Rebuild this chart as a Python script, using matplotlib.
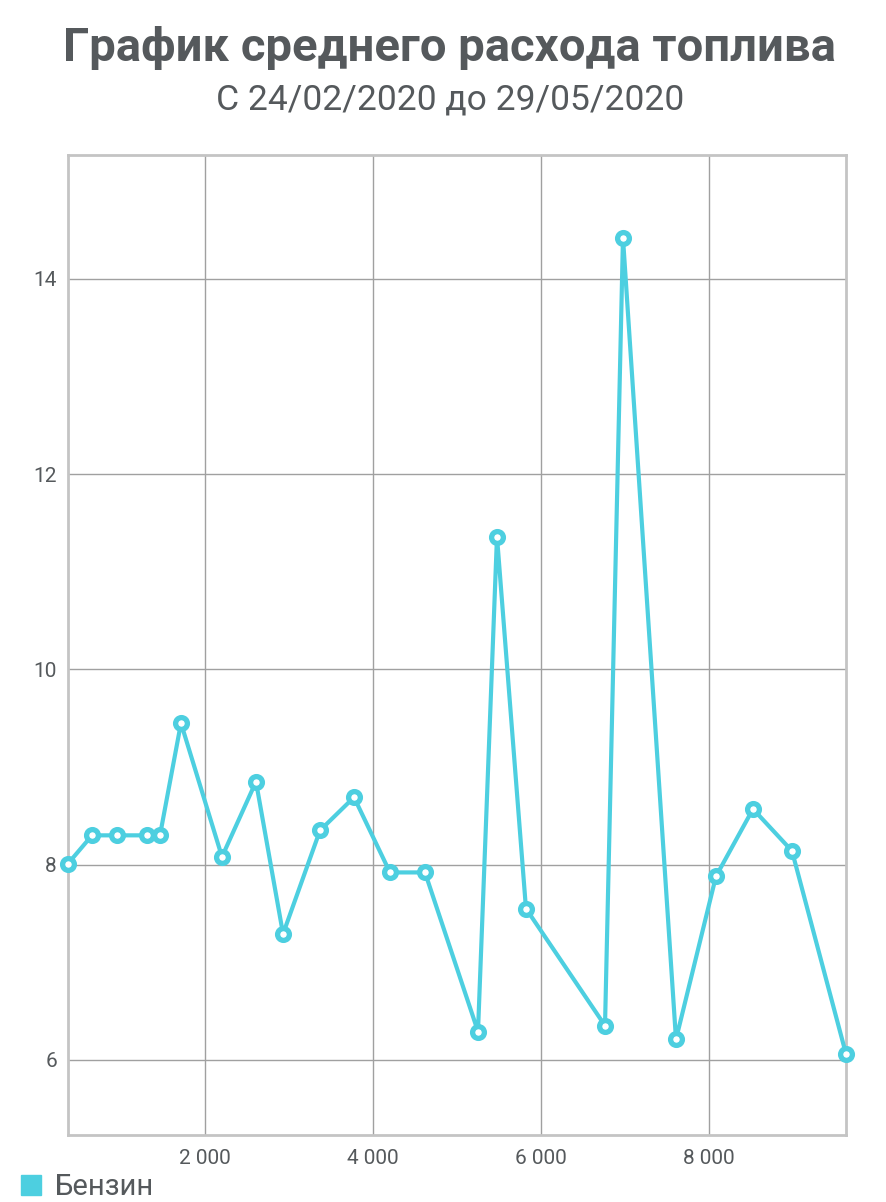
import matplotlib.pyplot as plt
from matplotlib.ticker import FuncFormatter, MultipleLocator
from matplotlib.lines import Line2D

plt.rcParams["font.family"] = ["Roboto", "DejaVu Sans"]

# mileage (km) and average consumption (l/100 km)
mileage = [369, 655, 952, 1310, 1464, 1714, 2202, 2607, 2929, 3369, 3774,
           4202, 4619, 5250, 5476, 5821, 6762, 6976, 7607, 8083, 8524, 8988, 9631]
consumption = [8.01, 8.30, 8.30, 8.30, 8.30, 9.45, 8.08, 8.85, 7.29, 8.35, 8.69,
               7.92, 7.92, 6.29, 11.36, 7.55, 6.35, 14.42, 6.21, 7.88, 8.57, 8.14, 6.06]
series_name = "Бензин"
title = "График среднего расхода топлива"
subtitle = "С 24/02/2020 до 29/05/2020"

line_color = "#4dcfe0"
text_color = "#55595c"

fig = plt.figure(figsize=(8.86, 12.02), dpi=100)
ax = fig.add_axes([68 / 886, 1 - 1135 / 1202, (846 - 68) / 886, (1135 - 155) / 1202])

ax.plot(mileage, consumption, color=line_color, lw=3, marker="o",
        markersize=8.5, markerfacecolor="white", markeredgecolor=line_color,
        markeredgewidth=3.8, zorder=3, clip_on=False)

ax.set_xlim(369, 9631)
ax.set_ylim(5.23, 15.27)
ax.xaxis.set_major_locator(MultipleLocator(2000))
ax.yaxis.set_major_locator(MultipleLocator(2))
ax.xaxis.set_major_formatter(FuncFormatter(lambda v, p: f"{int(v):,}".replace(",", " ")))
ax.yaxis.set_major_formatter(FuncFormatter(lambda v, p: f"{int(v)}"))

ax.grid(True, color="#a0a0a0", lw=1)
ax.set_axisbelow(True)
for s in ax.spines.values():
    s.set_color("#c4c4c4")
    s.set_linewidth(2)
ax.tick_params(length=0, labelsize=15, colors=text_color, pad=8)
ax.tick_params(axis="x", pad=10)

fig.text(449 / 886, 1 - 48 / 1202, title, ha="center", va="center",
         fontsize=34, fontweight="bold", color=text_color)
fig.text(450 / 886, 1 - 100 / 1202, subtitle, ha="center", va="center",
         fontsize=25.5, color=text_color)

handle = Line2D([], [], marker="s", ls="", markersize=15,
                markerfacecolor=line_color, markeredgecolor=line_color)
fig.legend([handle], [series_name], loc="center left",
           bbox_to_anchor=(8 / 886, 1 - 1187 / 1202), frameon=False,
           fontsize=21, handlelength=1.0, handletextpad=0.3,
           borderaxespad=0, borderpad=0.3, labelcolor=text_color)

fig.savefig("out.png", dpi=100)
